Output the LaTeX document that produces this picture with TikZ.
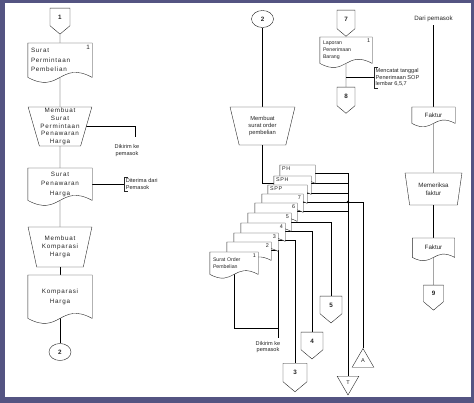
\documentclass[tikz,border=0pt]{standalone}
\usepackage{fontspec}
\setmainfont{Liberation Sans}
\newfontfamily\lsp{Liberation Sans}[LetterSpace=12]
\usetikzlibrary{shapes.geometric,shapes.symbols,positioning}

\definecolor{framecol}{RGB}{84,84,130}

\newcommand\docfont{\lsp\fontsize{6.3}{9.4}\selectfont}
\newcommand\opfont{\lsp\fontsize{6.3}{7.8}\selectfont}
\newcommand\midfont{\fontsize{5.8}{7.4}\selectfont}
\newcommand\rightfont{\fontsize{6.2}{7.6}\selectfont}
\newcommand\notefont{\fontsize{5.6}{6.6}\selectfont}
\newcommand\stkfont{\fontsize{5.2}{7}\selectfont}
\newcommand\lblfont{\lsp\fontsize{5.4}{6}\selectfont}
\newcommand\numfont{\bfseries\fontsize{6.3}{7}\selectfont}

% document symbol: rectangle with a wavy bottom
\newdimen\wavemid \newdimen\wavelow
\makeatletter
\pgfdeclareshape{docwave}{%
  \inheritsavedanchors[from=rectangle]%
  \inheritanchorborder[from=rectangle]%
  \inheritanchor[from=rectangle]{center}%
  \inheritanchor[from=rectangle]{north}%
  \inheritanchor[from=rectangle]{south}%
  \inheritanchor[from=rectangle]{east}%
  \inheritanchor[from=rectangle]{west}%
  \inheritanchor[from=rectangle]{north east}%
  \inheritanchor[from=rectangle]{north west}%
  \inheritanchor[from=rectangle]{south east}%
  \inheritanchor[from=rectangle]{south west}%
  \backgroundpath{%
    \southwest \pgf@xa=\pgf@x \pgf@ya=\pgf@y
    \northeast \pgf@xb=\pgf@x \pgf@yb=\pgf@y
    \wavemid=.5\pgf@xa \advance\wavemid by .5\pgf@xb
    \pgf@xc=\pgf@xb \advance\pgf@xc by -\pgf@xa
    \pgf@yc=\pgf@ya \advance\pgf@yc by .27\pgf@xc
    \wavelow=\pgf@ya \advance\wavelow by -.27\pgf@xc
    \pgfpathmoveto{\pgfqpoint{\pgf@xa}{\pgf@yb}}%
    \pgfpathlineto{\pgfqpoint{\pgf@xb}{\pgf@yb}}%
    \pgfpathlineto{\pgfqpoint{\pgf@xb}{\pgf@ya}}%
    \pgfpathcurveto{\pgfqpoint{\wavemid}{\pgf@yc}}{\pgfqpoint{\wavemid}{\wavelow}}{\pgfqpoint{\pgf@xa}{\pgf@ya}}%
    \pgfpathclose
  }%
}
\makeatother

\pgfdeclarelayer{back}
\pgfdeclarelayer{wires}
\pgfsetlayers{back,wires,main}

\tikzset{
  doc/.style={shape=docwave, draw, fill=white, inner sep=2pt, align=left},
  manop/.style={trapezium, draw, fill=white, trapezium stretches=true,
    shape border rotate=180, trapezium angle=#1, inner sep=.5pt, align=center},
  manop/.default=74,
  offpage/.style={signal, signal to=south, signal from=nowhere,
    signal pointer angle=100, draw, fill=white, inner sep=0pt, font=\numfont},
  onpage/.style={ellipse, draw, fill=white, minimum width=22pt,
    minimum height=17pt, inner sep=0pt, font=\numfont},
  arsip/.style={regular polygon, regular polygon sides=3, draw, fill=white,
    minimum size=25pt, inner sep=0pt, font=\notefont},
  note/.style={align=left, inner sep=1.5pt, font=\notefont},
  lbl/.style={inner sep=2pt, font=\lblfont},
}

\begin{document}
\begin{tikzpicture}[x=1pt,y=-1pt,line width=.6pt,color=black!85]
	\begin{pgfonlayer}{back}
		\fill[framecol] (0,0) rectangle (474,403);
		\fill[white] (5,3) rectangle (471,397);
	\end{pgfonlayer}
	\useasboundingbox (0,0) rectangle (474,403);

	% permintaan penawaran harga
	\node[offpage,minimum width=20pt,minimum height=19pt,anchor=north] (off1) at (60,8) {1};
	\node[doc,minimum width=64pt,minimum height=34pt,anchor=north,text width=58pt,font=\docfont,
		label={[lbl,font=\docfont,anchor=north east]north east:1}] (spm) at (60,43) {Surat\\Permintaan\\Pembelian};
	\node[manop=74,minimum width=64pt,minimum height=39pt,font=\opfont] (buatsph) at (60,126.5) {Membuat\\Surat\\Permintaan\\Penawaran\\Harga};
	\node[doc,minimum width=64pt,minimum height=32pt,anchor=north,align=center,font=\docfont] (sph1) at (60,168) {Surat\\Penawaran\\Harga};
	\node[manop=73,minimum width=64pt,minimum height=40pt,font=\opfont] (buatkomp) at (60,247) {Membuat\\Komparasi\\Harga};
	\node[doc,minimum width=64pt,minimum height=43pt,anchor=north,align=center,font=\docfont] (komp) at (60,275) {Komparasi\\Harga};
	\node[onpage] (on2a) at (60,352) {2};

	\coordinate (kirim1) at (135,137);
	\node[note,align=center] (kirimtxt1) at (127,150.5) {Dikirim ke\\pemasok};
	\node[note,right=32pt of sph1.east] (terima) {Diterima dari\\Pemasok};
	\draw ([xshift=4pt]terima.north west) -| (terima.south west) -- ++(4pt,0);

	% surat order pembelian
	\node[onpage] (on2b) at (262.5,19) {2};
	\node[manop=75,minimum width=65pt,minimum height=38pt,font=\midfont] (buatsop) at (262.5,126) {Membuat\\surat order\\pembelian};

	\foreach \nm/\cx/\ty/\w/\lab/\sd in {ph/297.5/165/35/PH/west, sph/292.5/176/37/SPH/west,
			spp/287.5/185/39/SPP/west, s7/282.5/194/41/7/east, s6/276/203/42/6/east,
			s5/269.5/213/43/5/east, s4/263/223/44/4/east, s3/256/233/44/3/east, s2/249/242/44/2/east}
		\node[doc,minimum width=\w pt,minimum height=18pt,anchor=north,
			label={[lbl,anchor=north \sd]north \sd:\lab}] (\nm) at (\cx,\ty) {};
	\node[doc,minimum width=48pt,minimum height=22pt,anchor=north,text width=42pt,font=\stkfont,
		label={[lbl,anchor=north east]north east:1}] (s1) at (234,252) {Surat Order\\Pembelian};

	\node[offpage,minimum width=22pt,minimum height=19pt,anchor=north] (off5) at (331,296) {5};
	\node[offpage,minimum width=22pt,minimum height=19pt,anchor=north] (off4) at (312,332) {4};
	\node[offpage,minimum width=24pt,minimum height=20pt,anchor=north] (off3) at (295,363) {3};
	\node[arsip,shape border rotate=180] (tfile) at (348,382.5) {T};
	\node[arsip] (afile) at (363,361) {A};
	\coordinate (kirim2) at (278,338);
	\node[note,align=center] (kirimtxt2) at (268,347) {Dikirim ke\\pemasok};

	% penerimaan barang
	\node[offpage,minimum width=18pt,minimum height=20pt,anchor=north] (off7) at (346,10) {7};
	\node[doc,minimum width=52pt,minimum height=26pt,anchor=north,text width=46pt,font=\stkfont,
		label={[lbl,anchor=north east]north east:1}] (lpb) at (346,37) {Laporan\\Penerimaan\\Barang};
	\node[offpage,minimum width=18pt,minimum height=20pt,anchor=north] (off8) at (346,87) {8};
	\node[note,anchor=west] (catat) at (374,77.5) {Mencatat tanggal\\Penerimaan SOP\\lembar 6,5,7};
	\draw ([xshift=4pt]catat.north west) -| (catat.south west) -- ++(4pt,0);

	% faktur dari pemasok
	\node[font=\rightfont] (dari) at (433.5,19) {Dari pemasok};
	\node[doc,minimum width=43pt,minimum height=16pt,anchor=north,font=\rightfont] (fak1) at (433.5,107) {Faktur};
	\node[manop=77,minimum width=57pt,minimum height=32pt,font=\rightfont] (periksa) at (433.5,189) {Memeriksa\\faktur};
	\node[doc,minimum width=42pt,minimum height=19pt,anchor=north,font=\rightfont] (fak2) at (433.5,238) {Faktur};
	\node[offpage,minimum width=20pt,minimum height=18pt,anchor=north] (off9) at (433.5,285) {9};

	\begin{pgfonlayer}{wires}
		\draw (off1) -- (spm);
		\draw (spm) -- (buatsph);
		\draw (buatsph) -- (sph1);
		\draw (sph1) -- (buatkomp);
		\draw (buatkomp) -- (komp);
		\draw (komp) -- (on2a);
		\draw (buatsph) -| (kirim1);
		\draw (sph1) -- (terima);

		\draw (on2b) -- (buatsop);
		\draw (buatsop) |- ([yshift=-7pt]sph.north west);
		\draw ([yshift=-8pt]ph.north east) -| (tfile);
		\draw ([yshift=-7pt]sph.north east) -| (tfile);
		\draw ([yshift=-8pt]spp.north east) -| (tfile);
		\draw ([yshift=-8pt]s6.north east) -| (tfile);
		\draw ([yshift=-8pt]s7.north east) -| (afile);
		\draw ([yshift=-9pt]s5.north east) -| (off5);
		\draw ([yshift=-8pt]s4.north east) -| (off4);
		\draw ([yshift=-7pt]s3.north east) -| (off3);
		\draw ([yshift=-8pt]s2.north east) -| (kirim2);
		\draw (s1) |- ([yshift=10pt]kirim2);
		\coordinate (j7) at ([yshift=-8pt]s7.north east);
		\fill (j7 -| tfile) circle (1.3pt);

		\draw (off7) -- (lpb);
		\draw (lpb) -- (off8);
		\draw (catat.west -| off8) -- (catat);

		\draw (dari) -- (fak1);
		\draw (fak1) -- (periksa);
		\draw (periksa) -- (fak2);
		\draw (fak2) -- (off9);
	\end{pgfonlayer}
\end{tikzpicture}
\end{document}
